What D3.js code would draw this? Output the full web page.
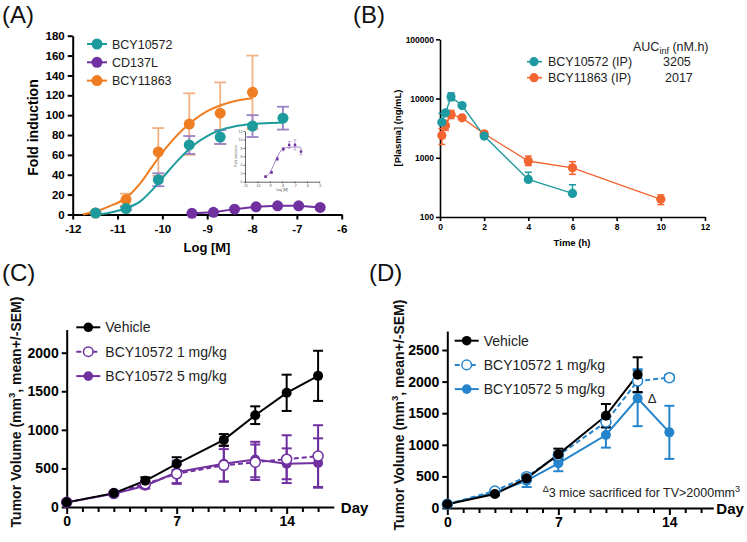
<!DOCTYPE html>
<html><head><meta charset="utf-8">
<script src="https://cdn.jsdelivr.net/npm/d3@7"></script>
<style>body{margin:0;background:#fff}svg{display:block}</style>
</head><body>
<script>
// ---------------- DATA ----------------
// Panel A: dose response (log M)
const aLogConc = [-11.49,-10.81,-10.09,-9.40,-8.71,-7.99,-7.31];
const aTealMean = [1.5,6,35,70,78,89,97];
const aTealSem  = [0.5,1.5,6.5,9,7,11,11.5];
const aOrangeMean = [1.5,15,63,91,102,123];
const aOrangeSem  = [0.5,6,24,31,31,37];
const aPurpleConc = [-9.34,-8.86,-8.39,-7.91,-7.43,-6.96,-6.48];
const aPurpleMean = [1.2,2.2,5.4,7.7,8.7,8.7,7.1];
const aPurpleSem  = [0.2,0.3,0.4,0.4,0.8,1.2,0.7];
// fitted curves
const aOrangeFitX = [-11.77,-11.5,-11.2,-10.8,-10.5,-10.2,-9.9,-9.6,-9.3,-9.0,-8.7,-8.4,-8.0];
const aOrangeFitY = [0,3,8,17,31,50,68,83,95,104,110,114,117];
const aTealFitX = [-11.4,-11.1,-10.8,-10.5,-10.2,-9.9,-9.6,-9.3,-9.0,-8.7,-8.4,-8.0,-7.6,-7.3];
const aTealFitY = [0,2.5,6.5,13,26,42,57,70,79,85,88.5,91,92,92.5];
const aInsetFitX = [-9.4,-9.2,-9.0,-8.8,-8.6,-8.4,-8.2,-8.0,-7.8,-7.5,-7.0,-6.5];
const aInsetFitY = [1.0,1.4,2.1,3.2,4.5,5.8,6.9,7.6,7.95,8.15,8.2,8.2];
const aXTicks = [-12,-11,-10,-9,-8,-7,-6];
const aYTicks = [0,20,40,60,80,100,120,140,160,180];
const aInsetXTicks = [-11,-10,-9,-8,-7,-6,-5];
const aInsetYTicks = [0,2,4,6,8,10,12];
const aLegend = ["BCY10572","CD137L","BCY11863"];

// Panel B: PK
const bTealTime = [0.083,0.25,0.5,1,2,4,6];
const bTealConc = [3980,5730,10670,7620,2320,431,250];
const bTealHi   = [5600,6100,12500,8000,2500,570,350];
const bTealLo   = [3980,5730,9200,7620,2320,431,250];
const bOrangeTime = [0.083,0.25,0.5,1,2,4,6,10];
const bOrangeConc = [2380,3510,5370,4720,2540,880,676,199];
const bOrangeHi   = [3100,4300,6300,5000,2650,1070,860,236];
const bOrangeLo   = [1680,2900,4600,4450,2420,740,525,162];
const bXTicks = [0,2,4,6,8,10,12];
const bYTicks = [100,1000,10000,100000];
const bLegend = ["BCY10572 (IP)","BCY11863 (IP)"];
const bAUC = ["3205","2017"];

// Panel C: tumour volume
const cDays = [0,3,5,7,10,12,14,16];
const cVehicle = [60,180,340,560,870,1190,1480,1700];
const cVehicleSem = [10,15,45,85,75,115,235,325];
const c1mg = [60,175,300,430,540,580,620,660];
const c1mgSem = [8,15,30,120,210,230,310,400];
const c5mg = [60,170,275,450,560,615,560,570];
const c5mgSem = [8,15,35,150,230,230,200,320];
const cYTicks = [0,500,1000,1500,2000];

// Panel D
const dVehDays = [0,3,5,7,10,12];
const dVehicle = [58,221,469,849,1461,2110];
const dVehicleSem = [10,20,40,90,185,275];
const dDays = [0,3,5,7,10,12,14];
const d1mg = [60,269,496,830,1361,2010,2062];
const d1mgSem = [8,20,30,60,85,185,45];
const d5mg = [60,243,432,707,1155,1735,1197];
const d5mgSem = [8,20,100,125,200,440,420];
const dYTicks = [0,500,1000,1500,2000,2500];
const cdLegend = ["Vehicle","BCY10572 1 mg/kg","BCY10572 5 mg/kg"];
const dayTicks = d3.range(0,17);
const dayLabels = [0,7,14];

// ---------------- DRAW ----------------
const F = '"Liberation Sans", Arial, Helvetica, sans-serif';
const TEAL = "#1d9a9c", PURPLE = "#7030a0", ORANGE = "#ef7d22", ORANGE_ERR = "#f4b183", TEAL_ERR = "#9a82c6";
const TEAL_B = "#1e9aa2", ORANGE_B = "#f26430", BLUE = "#2584cb";

const svg = d3.select("body").append("svg").attr("width",747).attr("height",542)
  .attr("font-family",F);

function styleAxis(g, sw, fs){
  g.select(".domain").attr("stroke","#000").attr("stroke-width",sw);
  g.selectAll(".tick line").attr("stroke","#000").attr("stroke-width",sw);
  g.selectAll(".tick text").attr("font-family",F).attr("font-weight","bold").attr("font-size",fs).attr("fill","#000");
}
function panelLabel(t,x,y){
  svg.append("text").attr("x",x).attr("y",y).attr("font-size",24).attr("fill","#111").text(t);
}
function errBars(g, xs, ys, lo, hi, x, y, color, cap, sw){
  xs.forEach((d,i)=>{
    const px = x(d), y1 = y(lo[i]), y2 = y(hi[i]);
    g.append("line").attr("x1",px).attr("x2",px).attr("y1",y1).attr("y2",y2).attr("stroke",color).attr("stroke-width",sw);
    g.append("line").attr("x1",px-cap/2).attr("x2",px+cap/2).attr("y1",y1).attr("y2",y1).attr("stroke",color).attr("stroke-width",sw);
    g.append("line").attr("x1",px-cap/2).attr("x2",px+cap/2).attr("y1",y2).attr("y2",y2).attr("stroke",color).attr("stroke-width",sw);
  });
}
function rotText(x,y,txt,fs,weight){
  return svg.append("text").attr("transform",`translate(${x},${y}) rotate(-90)`).attr("text-anchor","middle")
    .attr("dy","0.35em").attr("font-size",fs).attr("font-weight",weight||"bold").attr("fill","#000").text(txt);
}

// ===== Panel A =====
panelLabel("(A)",2,23);
const xA = d3.scaleLinear().domain([-12,-6]).range([72.7,341.7]);
const yA = d3.scaleLinear().domain([0,180]).range([214.5,35.7]);
const gA = svg.append("g");
gA.append("g").attr("transform","translate(0,214.5)")
  .call(d3.axisBottom(xA).tickValues(aXTicks).tickSize(5).tickSizeOuter(0).tickPadding(5).tickFormat(d=>String(d)))
  .call(g=>styleAxis(g,2,11.5));
gA.append("g").attr("transform","translate(72.7,0)")
  .call(d3.axisLeft(yA).tickValues(aYTicks).tickSize(5).tickSizeOuter(0).tickPadding(3).tickFormat(d=>String(d)))
  .call(g=>styleAxis(g,2,11.5));
rotText(33,127.5,"Fold induction",14);
svg.append("text").attr("x",207).attr("y",252).attr("text-anchor","middle").attr("font-size",13).attr("font-weight","bold").text("Log [M]");

// inset
const xI = d3.scaleLinear().domain([-11,-5]).range([245,319.3]);
const yI = d3.scaleLinear().domain([0,12]).range([181.7,131]);
const gI = svg.append("g");
gI.append("g").attr("transform","translate(0,181.7)")
  .call(d3.axisBottom(xI).tickValues(aInsetXTicks).tickSize(1.5).tickSizeOuter(0).tickPadding(1).tickFormat(d=>String(d)))
  .call(g=>{styleAxis(g,0.6,3.5); g.selectAll(".tick text").attr("font-weight","normal").attr("fill","#555");});
gI.append("g").attr("transform","translate(245,0)")
  .call(d3.axisLeft(yI).tickValues(aInsetYTicks).tickSize(1.5).tickSizeOuter(0).tickPadding(1).tickFormat(d=>String(d)))
  .call(g=>{styleAxis(g,0.6,3.5); g.selectAll(".tick text").attr("font-weight","normal").attr("fill","#555");});
svg.append("text").attr("transform","translate(237,156) rotate(-90)").attr("text-anchor","middle").attr("font-size",3.5).attr("fill","#555").text("Fold induction");
svg.append("text").attr("x",282).attr("y",191).attr("text-anchor","middle").attr("font-size",3.5).attr("fill","#555").text("Log [M]");
errBars(gI, aPurpleConc, aPurpleMean, aPurpleMean.map((m,i)=>m-aPurpleSem[i]), aPurpleMean.map((m,i)=>m+aPurpleSem[i]), xI, yI, "#9a80c0", 3, 0.6);
gI.append("path").datum(aInsetFitX.map((x,i)=>[x,aInsetFitY[i]]))
  .attr("d",d3.line().x(d=>xI(d[0])).y(d=>yI(d[1])).curve(d3.curveMonotoneX)).attr("fill","none").attr("stroke","#8a64b8").attr("stroke-width",0.8);
gI.selectAll("circle").data(aPurpleConc).join("circle").attr("cx",d=>xI(d)).attr("cy",(d,i)=>yI(aPurpleMean[i])).attr("r",1.4).attr("fill",PURPLE);

// main A marks
errBars(gA, aLogConc.slice(0,6), aOrangeMean, aOrangeMean.map((m,i)=>m-aOrangeSem[i]), aOrangeMean.map((m,i)=>m+aOrangeSem[i]), xA, yA, ORANGE_ERR, 12, 1.8);
errBars(gA, aLogConc, aTealMean, aTealMean.map((m,i)=>m-aTealSem[i]), aTealMean.map((m,i)=>m+aTealSem[i]), xA, yA, TEAL_ERR, 12, 1.8);
const lineA = d3.line().x(d=>xA(d[0])).y(d=>yA(d[1])).curve(d3.curveMonotoneX);
gA.append("path").datum(aOrangeFitX.map((x,i)=>[x,aOrangeFitY[i]])).attr("d",lineA).attr("fill","none").attr("stroke",ORANGE).attr("stroke-width",2);
gA.append("path").datum(aTealFitX.map((x,i)=>[x,aTealFitY[i]])).attr("d",lineA).attr("fill","none").attr("stroke",TEAL).attr("stroke-width",2);
gA.append("path").datum(aPurpleConc.map((x,i)=>[x,aPurpleMean[i]])).attr("d",d3.line().x(d=>xA(d[0])).y(d=>yA(d[1]))).attr("fill","none").attr("stroke",PURPLE).attr("stroke-width",2);
gA.append("g").selectAll("circle").data(aLogConc.slice(0,6)).join("circle").attr("cx",d=>xA(d)).attr("cy",(d,i)=>yA(aOrangeMean[i])).attr("r",5.5).attr("fill",ORANGE);
gA.append("g").selectAll("circle").data(aLogConc).join("circle").attr("cx",d=>xA(d)).attr("cy",(d,i)=>yA(aTealMean[i])).attr("r",5.5).attr("fill",TEAL);
gA.append("g").selectAll("circle").data(aPurpleConc).join("circle").attr("cx",d=>xA(d)).attr("cy",(d,i)=>yA(aPurpleMean[i])).attr("r",5.5).attr("fill",PURPLE);
// legend A
[TEAL,PURPLE,ORANGE].forEach((c,i)=>{
  const y = 44 + i*18.3;
  svg.append("line").attr("x1",87).attr("x2",107).attr("y1",y).attr("y2",y).attr("stroke",c).attr("stroke-width",2);
  svg.append("circle").attr("cx",97).attr("cy",y).attr("r",5.5).attr("fill",c);
  svg.append("text").attr("x",112).attr("y",y).attr("dy","0.36em").attr("font-size",12.5).attr("fill","#222").text(aLegend[i]);
});

// ===== Panel B =====
panelLabel("(B)",353,23);
const xB = d3.scaleLinear().domain([0,12]).range([440,705]);
const yB = d3.scaleLog().domain([100,100000]).range([217,39.3]);
const gB = svg.append("g");
gB.append("g").attr("transform","translate(0,217)")
  .call(d3.axisBottom(xB).tickValues(bXTicks).tickSize(4).tickSizeOuter(0).tickPadding(3).tickFormat(d=>String(d)))
  .call(g=>styleAxis(g,1.6,8.5));
gB.append("g").attr("transform","translate(440,0)")
  .call(d3.axisLeft(yB).tickValues(bYTicks).tickSize(4).tickSizeOuter(0).tickPadding(2).tickFormat(d=>String(d)))
  .call(g=>styleAxis(g,1.6,8.5));
rotText(398,128,"[Plasma] (ng/mL)",9.5);
svg.append("text").attr("x",572).attr("y",246).attr("text-anchor","middle").attr("font-size",9.5).attr("font-weight","bold").text("Time (h)");
errBars(gB, bOrangeTime, bOrangeConc, bOrangeLo, bOrangeHi, xB, yB, ORANGE_B, 7, 1.5);
errBars(gB, bTealTime, bTealConc, bTealLo, bTealHi, xB, yB, TEAL_B, 7, 1.5);
const lineB = d3.line().x(d=>xB(d[0])).y(d=>yB(d[1]));
gB.append("path").datum(bOrangeTime.map((t,i)=>[t,bOrangeConc[i]])).attr("d",lineB).attr("fill","none").attr("stroke",ORANGE_B).attr("stroke-width",1.4);
gB.append("path").datum(bTealTime.map((t,i)=>[t,bTealConc[i]])).attr("d",lineB).attr("fill","none").attr("stroke",TEAL_B).attr("stroke-width",1.4);
gB.append("g").selectAll("circle").data(bOrangeTime).join("circle").attr("cx",d=>xB(d)).attr("cy",(d,i)=>yB(bOrangeConc[i])).attr("r",4.6).attr("fill",ORANGE_B);
gB.append("g").selectAll("circle").data(bTealTime).join("circle").attr("cx",d=>xB(d)).attr("cy",(d,i)=>yB(bTealConc[i])).attr("r",4.6).attr("fill",TEAL_B);
// legend B
const aucT = svg.append("text").attr("x",633).attr("y",51).attr("font-size",12.5).attr("fill","#222");
aucT.append("tspan").text("AUC");
aucT.append("tspan").attr("font-size",9).attr("dy",3).text("inf");
aucT.append("tspan").attr("dy",-3).text(" (nM.h)");
[TEAL_B,ORANGE_B].forEach((c,i)=>{
  const y = 61.7 + i*16;
  svg.append("line").attr("x1",527).attr("x2",542).attr("y1",y).attr("y2",y).attr("stroke",c).attr("stroke-width",1.6);
  svg.append("circle").attr("cx",534).attr("cy",y).attr("r",4.6).attr("fill",c);
  svg.append("text").attr("x",548).attr("y",y).attr("dy","0.36em").attr("font-size",12.5).attr("fill","#222").text(bLegend[i]);
  svg.append("text").attr("x",663+i*2).attr("y",y).attr("dy","0.36em").attr("font-size",12.5).attr("fill","#222").text(bAUC[i]);
});

// ===== Panels C & D =====
function tumorPanel(opt){
  const x = d3.scaleLinear().domain([0,opt.xmax]).range(opt.xr);
  const y = d3.scaleLinear().domain([0,opt.ymax]).range([opt.y0, opt.y0 - opt.ymax*opt.ppu]);
  const g = svg.append("g");
  g.append("g").attr("transform",`translate(0,${opt.y0})`)
    .call(d3.axisBottom(x).tickValues(dayTicks).tickSize(5).tickSizeOuter(0).tickPadding(4).tickFormat(d=>dayLabels.includes(d)?String(d):""))
    .call(a=>{styleAxis(a,2,14); a.selectAll(".tick").filter(d=>dayLabels.includes(d)).select("line").attr("y2",7);});
  g.append("g").attr("transform",`translate(${opt.xr[0]},0)`)
    .call(d3.axisLeft(y).tickValues(opt.yticks).tickSize(5).tickSizeOuter(0).tickPadding(3).tickFormat(d=>String(d)))
    .call(a=>styleAxis(a,2,14));
  svg.append("text").attr("x",opt.xr[1]+opt.dayGap).attr("y",opt.y0+5.5).attr("font-size",15).attr("font-weight","bold").text("Day");
  const t = svg.append("text").attr("transform",`translate(${opt.titleX},${opt.titleY}) rotate(-90)`).attr("text-anchor","middle")
    .attr("dy","0.35em").attr("font-size",14).attr("font-weight","bold").attr("fill","#111");
  t.append("tspan").text("Tumor Volume (mm");
  t.append("tspan").attr("font-size",9.5).attr("dy",-6).text("3");
  t.append("tspan").attr("dy",6).text(", mean+/-SEM)");
  const series = opt.series;
  series.forEach(s=>errBars(g, s.days, s.vals, s.vals.map((v,i)=>v-s.sem[i]), s.vals.map((v,i)=>v+s.sem[i]), x, y, s.color, 10, 2));
  series.forEach(s=>{
    g.append("path").datum(s.days.map((d,i)=>[d,s.vals[i]])).attr("d",d3.line().x(d=>x(d[0])).y(d=>y(d[1])))
      .attr("fill","none").attr("stroke",s.color).attr("stroke-width",2).attr("stroke-dasharray",s.dash?"5,3":null);
  });
  series.forEach(s=>{
    g.append("g").selectAll("circle").data(s.days).join("circle").attr("cx",d=>x(d)).attr("cy",(d,i)=>y(s.vals[i]))
      .attr("r",5).attr("fill",s.open?"#fff":s.color).attr("stroke",s.color).attr("stroke-width",s.open?1.5:0);
  });
  // legend
  const legOrder = [series[2],series[1],series[0]];
  legOrder.forEach((s,i)=>{
    const ly = opt.legY + i*opt.legDy;
    svg.append("line").attr("x1",opt.legX-12).attr("x2",opt.legX+12).attr("y1",ly).attr("y2",ly).attr("stroke",s.color).attr("stroke-width",2).attr("stroke-dasharray",s.dash?"5,3":null);
    svg.append("circle").attr("cx",opt.legX).attr("cy",ly).attr("r",4.8).attr("fill",s.open?"#fff":s.color).attr("stroke",s.color).attr("stroke-width",s.open?1.5:0);
    svg.append("text").attr("x",opt.legX+17).attr("y",ly).attr("dy","0.36em").attr("font-size",14).attr("fill","#222").text(cdLegend[i]);
  });
  return {x,y};
}

panelLabel("(C)",2,281);
tumorPanel({xr:[66.7,333.8], xmax:17, y0:507, ymax:2300, ppu:0.07715, yticks:cYTicks, titleX:16, titleY:412,
  legX:88.3, legY:327.3, legDy:24.4, dayGap:7,
  series:[
    {days:cDays, vals:c5mg, sem:c5mgSem, color:PURPLE},
    {days:cDays, vals:c1mg, sem:c1mgSem, color:PURPLE, dash:true, open:true},
    {days:cDays, vals:cVehicle, sem:cVehicleSem, color:"#000"}
  ]});

panelLabel("(D)",369,281);
const D = tumorPanel({xr:[447.3,713.3], xmax:16.77, y0:508, ymax:2800, ppu:0.0632, yticks:dYTicks, titleX:399, titleY:415,
  legX:466.7, legY:340.7, legDy:24.2, dayGap:3,
  series:[
    {days:dDays, vals:d5mg, sem:d5mgSem, color:BLUE},
    {days:dDays, vals:d1mg, sem:d1mgSem, color:BLUE, dash:true, open:true},
    {days:dVehDays, vals:dVehicle, sem:dVehicleSem, color:"#000"}
  ]});
svg.append("text").attr("x",D.x(12)+10).attr("y",D.y(d5mg[5])+4.5).attr("font-size",13).attr("fill","#222").text("Δ");
const note = svg.append("text").attr("x",740).attr("y",497).attr("text-anchor","end").attr("font-size",12.5).attr("fill","#222");
note.append("tspan").attr("font-size",9).attr("dy",-5).text("Δ");
note.append("tspan").attr("dy",5).text("3 mice sacrificed for TV>2000mm");
note.append("tspan").attr("font-size",9).attr("dy",-5).text("3");
</script>
</body></html>
